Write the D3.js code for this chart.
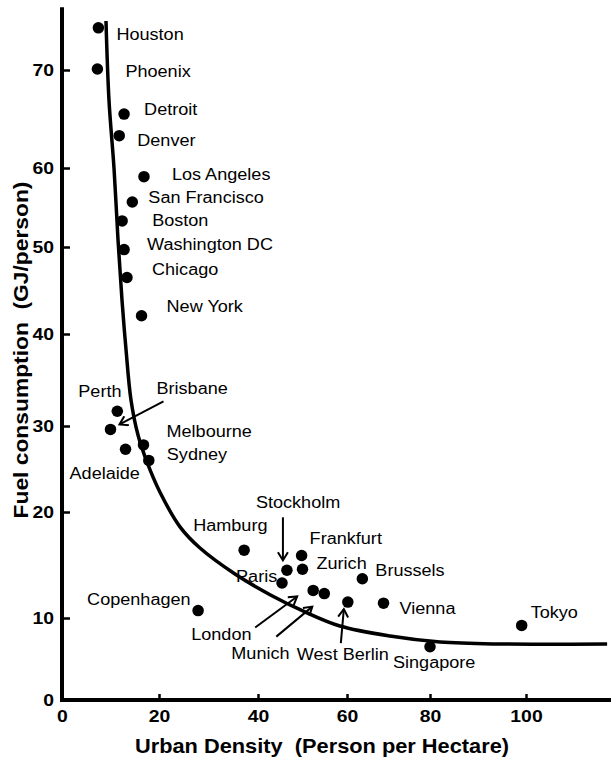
<!DOCTYPE html>
<html>
<head>
<meta charset="utf-8">
<script src="https://cdn.jsdelivr.net/npm/d3@7"></script>
<style>
  body { margin: 0; background: #fff; }
  svg text { font-family: "Liberation Sans", Arial, sans-serif; fill: #000; }
</style>
</head>
<body>
<div id="chart"></div>
<script>
// city data
const cities = ["Houston", "Phoenix", "Detroit", "Denver", "Los Angeles", "San Francisco",
    "Boston", "Washington DC", "Chicago", "New York", "Perth", "Brisbane", "Melbourne",
    "Sydney", "Adelaide", "Hamburg", "Copenhagen", "Stockholm", "Frankfurt", "Zurich",
    "Brussels", "Paris", "Vienna", "Tokyo", "London", "Munich", "West Berlin", "Singapore"];
const density = [7.5, 7.3, 12.8, 11.8, 16.9, 14.5, 12.4, 12.8, 13.4, 16.4, 11.4, 10.0, 16.8,
    17.9, 13.1, 37.2, 27.9, 46.5, 49.8, 50.0, 63.7, 45.4, 68.8, 99.1, 52.4, 54.9, 60.2, 80.0];
const fuel = [74.3, 70.1, 65.5, 63.3, 58.9, 55.7, 53.3, 49.7, 46.5, 42.1, 31.6, 29.6, 27.8,
    26.0, 27.3, 16.4, 10.7, 14.5, 15.9, 14.6, 13.7, 13.3, 11.4, 9.1, 12.6, 12.3, 11.5, 6.5];

// fitted trend line, sampled from the figure
const trendX = [9.07, 9.69, 10.72, 11.55, 12.37, 13.2, 14.23, 15.67, 17.53, 20.2, 24.24,
    28.28, 35.35, 42.7, 50.56, 58.4, 70.36, 82.1, 94.6, 116.9];
const trendY = [75.0, 66.9, 60.0, 50.9, 43.9, 38.3, 32.8, 28.95, 25.8, 22.3, 18.6, 16.6,
    14.15, 12.2, 10.57, 9.02, 7.8, 7.07, 6.83, 6.83];

const xTicks = [0, 20, 40, 60, 80, 100];
const yTicks = [0, 10, 20, 30, 40, 50, 60, 70];

// label placement, px offset of label (left, baseline) from its dot
const labelPos = {
    "Houston": [18, 12], "Phoenix": [28, 8], "Detroit": [20, 1], "Denver": [18, 10],
    "Los Angeles": [28, 3], "San Francisco": [16, 1], "Boston": [30, 5],
    "Washington DC": [23, 0], "Chicago": [25, -2], "New York": [25, -4],
    "Perth": [-39, -14], "Brisbane": [46, -35], "Melbourne": [23, -8], "Sydney": [18, 0],
    "Adelaide": [-56, 30], "Hamburg": [-51, -19], "Copenhagen": [-111, -6],
    "Stockholm": [-31, -62], "Frankfurt": [8, -11], "Zurich": [14, 0], "Brussels": [13, -3],
    "Paris": [-46, -1], "Vienna": [16, 11], "Tokyo": [9, -7], "London": [-122, 50],
    "Munich": [-93, 65], "West Berlin": [-51, 58], "Singapore": [-37, 21]
};
// arrows: [startDx, startDy, endDx, endDy] relative to the dot
const arrowPos = {
    "Brisbane": [53, -28, 9, -5],
    "Stockholm": [-4, -53, -4, -10],
    "London": [-58, 37, -16, 6],
    "Munich": [-48, 43, -12, 13],
    "West Berlin": [-7, 41, -4, 7]
};

const width = 611, height = 758;
const svg = d3.select("#chart").append("svg")
    .attr("width", width)
    .attr("height", height);

// the original axes are unevenly spaced, so map each tick to where it sits
let x = d3.scaleLinear().domain(xTicks).range([62, 159, 258, 347, 430, 526]);
let y = d3.scaleLinear().domain(yTicks).range([700, 618, 512, 426, 334, 247, 168, 70]);

// helper for the slightly wide lettering of the original
function place(sel, px, py, sx) {
    sel.attr("transform", `translate(${px},${py}) scale(${sx},1)`);
}

// axes
let yAxis = d3.axisLeft(y).tickValues(yTicks).tickSize(-8).tickPadding(7);
let yG = svg.append("g").attr("transform", `translate(${x(0)},0)`).call(yAxis);
let xAxis = d3.axisBottom(x).tickValues(xTicks).tickSize(-6).tickPadding(10);
let xG = svg.append("g").attr("transform", `translate(0,${y(0)})`).call(xAxis);

[yG, xG].forEach(g => {
    g.select(".domain").remove();
    g.selectAll(".tick line").attr("stroke", "#000").attr("stroke-width", 2.5);
    g.selectAll(".tick text")
        .style("font-size", "17px")
        .style("font-weight", "bold")
        .attr("transform", "scale(1.14,1)");
});
xG.selectAll(".tick").filter(d => d === 0).select("line").remove();
yG.selectAll(".tick").filter(d => d === 0).select("line").remove();

svg.append("line")
    .attr("x1", x(0)).attr("x2", x(0))
    .attr("y1", y(76.4)).attr("y2", y(0) + 2)
    .attr("stroke", "#000").attr("stroke-width", 4);
svg.append("line")
    .attr("x1", x(0) - 2).attr("x2", width)
    .attr("y1", y(0)).attr("y2", y(0))
    .attr("stroke", "#000").attr("stroke-width", 4);

// axis titles
svg.append("text")
    .attr("text-anchor", "middle")
    .attr("xml:space", "preserve")
    .style("font-size", "20px").style("font-weight", "bold")
    .text("Urban Density  (Person per Hectare)")
    .call(place, 322, 753, 1.09);

svg.append("text")
    .attr("text-anchor", "middle")
    .attr("xml:space", "preserve")
    .style("font-size", "20px").style("font-weight", "bold")
    .attr("transform", "translate(28,350) rotate(-90) scale(1.14,1)")
    .text("Fuel consumption  (GJ/person)");

// trend curve
let trend = trendX.map((d, i) => [d, trendY[i]]);
let line = d3.line()
    .x(d => x(d[0]))
    .y(d => y(d[1]))
    .curve(d3.curveCatmullRom.alpha(0.5));
svg.append("path")
    .datum(trend)
    .attr("d", line)
    .attr("fill", "none")
    .attr("stroke", "#000")
    .attr("stroke-width", 3.5);

// points
let data = cities.map((c, i) => ({name: c, x: density[i], y: fuel[i]}));
svg.selectAll(".dot")
    .data(data)
    .enter()
    .append("circle")
    .attr("class", "dot")
    .attr("cx", d => x(d.x))
    .attr("cy", d => y(d.y))
    .attr("r", 5.75)
    .attr("fill", "#000");

// arrows
svg.append("defs").append("marker")
    .attr("id", "head")
    .attr("viewBox", "-10 -6 12 12")
    .attr("refX", 0).attr("refY", 0)
    .attr("markerWidth", 12).attr("markerHeight", 12)
    .attr("markerUnits", "userSpaceOnUse")
    .attr("orient", "auto")
    .append("path")
    .attr("d", "M-8,-5 L0,0 L-8,5")
    .attr("fill", "none")
    .attr("stroke", "#000")
    .attr("stroke-width", 2);

svg.selectAll(".arrow")
    .data(data.filter(d => arrowPos[d.name]))
    .enter()
    .append("line")
    .attr("class", "arrow")
    .attr("x1", d => x(d.x) + arrowPos[d.name][0])
    .attr("y1", d => y(d.y) + arrowPos[d.name][1])
    .attr("x2", d => x(d.x) + arrowPos[d.name][2])
    .attr("y2", d => y(d.y) + arrowPos[d.name][3])
    .attr("stroke", "#000")
    .attr("stroke-width", 2)
    .attr("marker-end", "url(#head)");

// city labels
svg.selectAll(".city")
    .data(data)
    .enter()
    .append("text")
    .attr("class", "city")
    .style("font-size", "16px")
    .text(d => d.name)
    .attr("transform", d => `translate(${x(d.x) + labelPos[d.name][0]},${y(d.y) + labelPos[d.name][1]}) scale(1.13,1)`);
</script>
</body>
</html>
